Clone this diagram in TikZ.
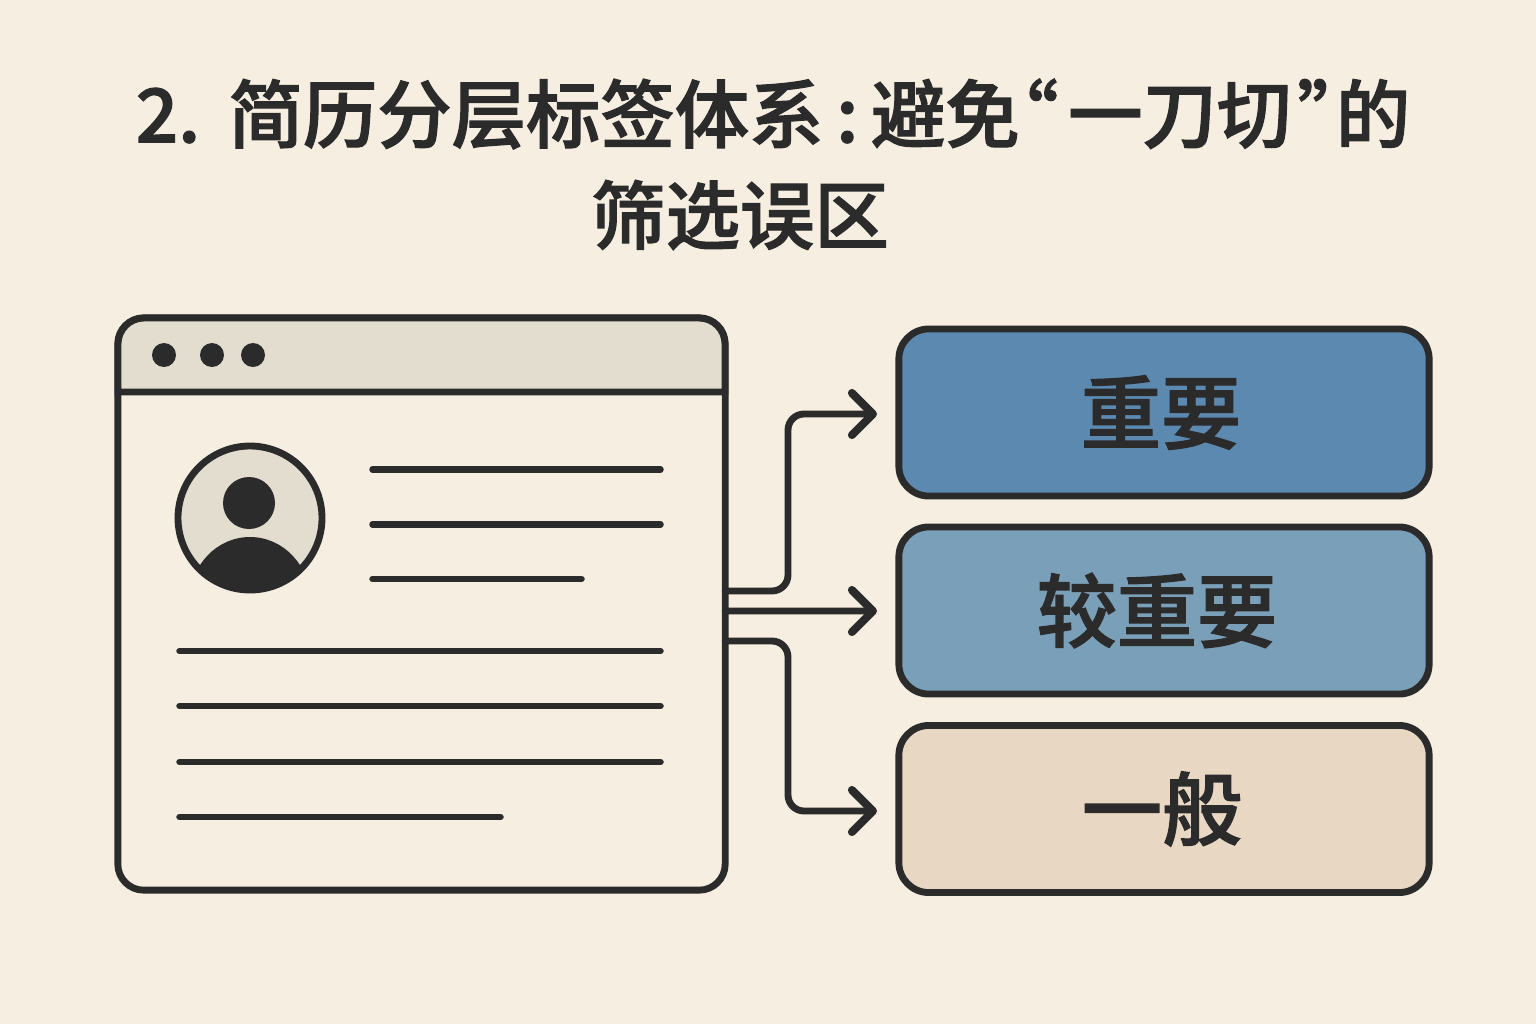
\documentclass[tikz,border=0pt]{standalone}
\usepackage{fontspec}
\setmainfont{Noto Sans CJK SC}[BoldFont={Noto Sans CJK SC Medium},BoldFeatures={FakeBold=1.6}]
\usetikzlibrary{arrows.meta}
\definecolor{PaperClr}{HTML}{F6EEE1}
\definecolor{InkClr}{HTML}{2B2B2B}
\definecolor{BarClr}{HTML}{E3DDD0}
\definecolor{HighClr}{HTML}{5C89B0}
\definecolor{MidClr}{HTML}{7A9FB8}
\definecolor{LowClr}{HTML}{E8D8C3}
\tikzset{
  outline/.style={draw=InkClr,line width=1.95pt},
  textline/.style={draw=InkClr,line width=1.85pt,line cap=round},
  link/.style={draw=InkClr,line width=1.95pt,line cap=round,rounded corners=.16cm,
    -{Straight Barb[length=.21cm,width=.42cm,round,line width=2.3pt]}},
  tagbox/.style={outline,rounded corners=.3cm,inner sep=0pt,outer sep=0pt,
    minimum width=5.3cm,minimum height=1.67cm,
    font=\bfseries\fontsize{22.8pt}{27pt}\selectfont,text=InkClr},
  headline/.style={inner sep=0pt,text=InkClr,font=\bfseries\fontsize{21.15pt}{26pt}\selectfont}
}

\begin{document}
\begin{tikzpicture}[x=.01cm,y=-.01cm]
\fill[PaperClr] (0,0) rectangle (1536,1024);
\useasboundingbox (0,0) rectangle (1536,1024);

% Title, two lines.
\node[headline] (titleA) at (773,114) {2.\kern.08em{} 简历分层标签体系\kern.17em:\kern.17em避免\kern-.48em“\kern.13em一刀切\kern.08em”\kern-.48em的};
\node[headline] (titleB) at (740,215) {筛选误区};

% The resume window.
\node[outline,rounded corners=.26cm,fill=PaperClr,inner sep=0pt,outer sep=0pt,
  minimum width=6.07cm,minimum height=5.72cm] (resume) at (421.5,604) {};
\draw[outline,fill=BarClr] (118,392) [rounded corners=.26cm] -- (118,318) -- (725,318)
  [sharp corners] -- (725,392) -- cycle;
\foreach \x in {164,212,253}
  \fill[InkClr] (\x,355) circle (12);

% Portrait.
\begin{scope}
\clip (250,518) circle (72);
\fill[BarClr] (250,518) circle (72);
\fill[InkClr] (250,600) ellipse [x radius=60,y radius=63];
\end{scope}
\draw[outline] (250,518) circle (72);
\fill[InkClr] (249,503) circle (26);

% Lines of text on the resume.
\foreach \xa/\xb/\y in {372.5/660.5/469.5,372.5/660.5/524.5,372.5/581.5/579,
    179.5/660.5/651,179.5/660.5/706,179.5/660.5/762,179.5/500.5/817}
  \draw[textline] (\xa,\y) -- (\xb,\y);

% The three tags.
\node[tagbox,fill=HighClr] (tagHigh) at (1164,412.5) {重要\kern.06cm\relax};
\node[tagbox,fill=MidClr] (tagMid) at (1164,610.5) {较重要\kern.14cm\relax};
\node[tagbox,fill=LowClr] (tagLow) at (1164,809) {一般\kern.04cm\relax};

% Where the arrows stop.
\coordinate (endHigh) at (877,414);
\coordinate (endMid) at (877,611);
\coordinate (endLow) at (877,811);

\draw[link] ([yshift=.13cm]resume.east) -- (788,591) |- (endHigh);
\draw[link] ([yshift=-.07cm]resume.east) -- (endMid);
\draw[link] ([yshift=-.37cm]resume.east) -- (788,641) |- (endLow);
\end{tikzpicture}
\end{document}
